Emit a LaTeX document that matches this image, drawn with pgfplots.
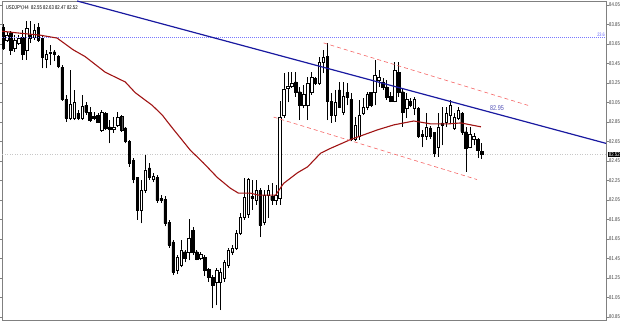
\documentclass[border=0pt]{standalone}
\usepackage{pgfplots}
\pgfplotsset{compat=1.18}
\usepackage{pgfplotstable}
\usepackage{fontspec}
\setmainfont{Liberation Sans}
\newfontfamily\mtfont[FakeStretch=0.78]{Liberation Sans}

\definecolor{maRed}{RGB}{160,20,20}
\definecolor{trendBlue}{RGB}{25,25,160}
\definecolor{chanRed}{RGB}{245,100,100}
\definecolor{fibBlue}{RGB}{120,120,255}
\definecolor{frameGray}{RGB}{128,128,128}

\pgfplotstableread{
k o h l c
0 83.82 83.85 83.59 83.61
1 83.69 83.77 83.67 83.74
2 83.76 83.78 83.54 83.59
3 83.61 83.74 83.57 83.69
4 83.66 83.74 83.64 83.71
5 83.72 83.79 83.49 83.54
6 83.59 83.88 83.49 83.81
7 83.74 83.88 83.66 83.71
8 83.72 83.85 83.69 83.79
9 83.82 83.86 83.67 83.69
10 83.71 83.73 83.40 83.51
11 83.49 83.59 83.40 83.54
12 83.55 83.64 83.43 83.57
13 83.57 83.59 83.47 83.54
14 83.52 83.54 83.40 83.42
15 83.41 83.43 83.07 83.08
16 83.08 83.13 82.85 82.89
17 82.89 83.38 82.87 83.03
18 82.89 83.18 82.87 83.05
19 82.94 82.97 82.87 82.89
20 82.89 83.13 82.87 83.01
21 83.02 83.05 82.92 82.95
22 82.95 83.00 82.85 82.87
23 82.91 82.95 82.87 82.89
24 82.92 82.94 82.84 82.85
25 82.77 82.97 82.75 82.95
26 82.94 82.95 82.77 82.79
27 82.80 82.87 82.63 82.78
28 82.78 82.90 82.74 82.80
29 82.82 82.95 82.80 82.90
30 82.91 82.92 82.75 82.77
31 82.79 82.80 82.63 82.65
32 82.65 82.67 82.39 82.43
33 82.46 82.48 82.22 82.26
34 82.28 82.29 81.85 81.95
35 81.95 82.26 81.81 82.15
36 82.15 82.51 82.12 82.36
37 82.38 82.43 82.26 82.28
38 82.26 82.33 82.23 82.29
39 82.28 82.31 82.02 82.05
40 82.07 82.10 82.02 82.05
41 82.06 82.09 81.78 81.81
42 81.82 81.85 81.56 81.59
43 81.62 81.64 81.28 81.31
44 81.33 81.49 81.29 81.46
45 81.38 81.64 81.36 81.54
46 81.52 81.54 81.41 81.45
47 81.51 81.86 81.43 81.66
48 81.74 81.77 81.49 81.51
49 81.52 81.54 81.43 81.44
50 81.45 81.52 81.43 81.49
51 81.46 81.49 81.27 81.33
52 81.34 81.35 81.21 81.26
53 81.26 81.28 80.94 81.18
54 81.21 81.35 80.97 81.33
55 81.21 81.35 80.92 81.31
56 81.25 81.43 81.21 81.41
57 81.38 81.56 81.35 81.54
58 81.52 81.59 81.49 81.56
59 81.56 81.74 81.54 81.71
60 81.71 81.92 81.69 81.87
61 81.87 82.28 81.85 82.08
62 81.90 82.28 81.87 82.26
63 82.09 82.26 81.95 82.07
64 82.05 82.26 82.00 82.15
65 82.15 82.17 81.67 81.79
66 81.82 82.15 81.79 82.10
67 82.10 82.20 81.87 82.15
68 82.09 82.22 82.00 82.05
69 82.05 82.20 82.00 82.10
70 82.07 83.06 82.00 82.90
71 82.92 83.35 82.89 83.19
72 83.20 83.36 83.05 83.22
73 83.22 83.36 83.20 83.25
74 83.26 83.36 83.11 83.15
75 83.16 83.21 82.87 83.02
76 83.02 83.23 82.99 83.13
77 83.02 83.31 82.87 83.25
78 83.15 83.36 83.13 83.31
79 83.30 83.31 83.23 83.25
80 83.25 83.52 83.23 83.46
81 83.46 83.59 83.35 83.51
82 83.52 83.66 82.87 83.06
83 83.06 83.15 82.84 82.92
84 82.92 83.18 82.85 83.05
85 83.18 83.26 82.99 83.00
86 82.95 83.26 82.92 83.11
87 83.15 83.25 83.02 83.10
88 83.08 83.15 82.65 82.67
89 82.67 82.90 82.65 82.82
90 82.70 83.08 82.67 82.92
91 82.94 83.10 82.92 83.00
92 83.00 83.16 82.97 83.13
93 83.15 83.16 83.00 83.02
94 83.15 83.49 83.02 83.33
95 83.28 83.38 83.21 83.31
96 83.26 83.30 83.18 83.21
97 83.21 83.28 83.08 83.10
98 83.11 83.16 83.05 83.06
99 83.06 83.46 83.05 83.38
100 83.36 83.46 83.11 83.15
101 83.16 83.20 82.80 82.95
102 82.99 83.15 82.89 83.08
103 83.06 83.10 83.00 83.02
104 82.99 83.11 82.92 83.08
105 82.99 83.00 82.69 82.70
106 82.72 82.77 82.59 82.70
107 82.70 82.94 82.67 82.80
108 82.79 82.81 82.68 82.70
109 82.74 82.75 82.49 82.53
110 82.59 82.94 82.49 82.80
111 82.84 83.00 82.61 82.82
112 82.85 83.00 82.80 82.94
113 82.92 83.08 82.84 83.02
114 82.79 82.94 82.77 82.90
115 82.89 83.00 82.87 82.97
116 82.94 82.95 82.72 82.75
117 82.75 82.80 82.34 82.58
118 82.59 82.80 82.58 82.72
119 82.67 82.74 82.61 82.70
120 82.67 82.69 82.48 82.56
121 82.55 82.63 82.47 82.52
}\candles

\pgfplotsset{base/.style={at={(2pt,2pt)}, anchor=south west, width=604pt, height=319pt,
  scale only axis, xmin=-0.2, xmax=152.4, ymin=80.82, ymax=84.09, clip mode=individual}}

\begin{document}
\begin{tikzpicture}
\path[use as bounding box] (0,0) rectangle (625pt,322pt);
% axis 1: frame, ticks, horizontal lines, wicks
\begin{axis}[base,
  axis line style={frameGray, line width=0.8pt},
  xtick=\empty,
  ytick={80.85,81.05,81.25,81.45,81.65,81.85,82.05,82.25,82.45,82.65,82.85,83.05,83.25,83.45,83.65,83.85,84.05},
  yticklabel pos=right,
  tick align=outside, major tick length=2.5pt,
  ytick style={frameGray, line width=0.5pt},
  /pgf/number format/assume math mode=true,
  yticklabel style={font=\mtfont\fontsize{5.5}{6}\selectfont, text=black!75, inner sep=0pt, anchor=west, xshift=0.5pt,
    /pgf/number format/.cd, fixed, fixed zerofill, precision=2},
]
\addplot[draw=black!22, dash pattern=on 1pt off 1.5pt, line width=0.5pt] coordinates {(-0.2,82.52) (152.4,82.52)};
\addplot[draw=none, no markers, error bars/.cd, y dir=plus, y explicit, error mark=none,
  error bar style={draw=black, line width=0.5pt}]
  table[x=k, y=l, y error expr=\thisrow{h}-\thisrow{l}] {\candles};
\node[anchor=north west, font=\mtfont\fontsize{5.5}{6}\selectfont, inner sep=0pt] at (rel axis cs:0.006,0.985) {USDJPY,H4\ \ 82.55 82.63 82.47 82.52};
\node[anchor=south east, text=fibBlue!80!blue, font=\mtfont\fontsize{5}{6}\selectfont, inner sep=0.5pt] at (axis cs:152.3,83.72) {23.6};
\node[anchor=west, fill=black, text=white, font=\mtfont\fontsize{5.5}{6}\selectfont, inner sep=0.7pt, xshift=2pt] at (axis cs:152.4,82.52) {82.52};
\end{axis}
% axis 2: candle bodies
\begin{axis}[base, hide axis, ybar stacked, bar width=2.4pt]
\addplot[draw=none, fill=none] table[x=k, y expr={min(\thisrow{o},\thisrow{c})}] {\candles};
\addplot[draw=black, fill=white, line width=0.4pt] table[x=k, y expr={max(\thisrow{c}-\thisrow{o},0)}] {\candles};
\addplot[draw=black, fill=black, line width=0.4pt] table[x=k, y expr={max(\thisrow{o}-\thisrow{c},0)}] {\candles};
\end{axis}
% axis 3: indicators
\begin{axis}[base, hide axis]
\addplot[color=fibBlue, solid, line cap=butt, dash pattern=on 1pt off 1pt, line width=0.5pt] coordinates {(-0.2,83.72) (152.4,83.72)};
\addplot[maRed, line width=1.1pt] coordinates {(-0.2,83.78) (4.36,83.76) (9.42,83.74) (13.72,83.71) (17.77,83.59) (20.81,83.52) (25.88,83.36) (30.94,83.26) (33.47,83.15) (37.77,83.02) (40.31,82.92) (41.83,82.84) (43.60,82.75) (47.39,82.56) (50.69,82.43) (54.23,82.28) (57.52,82.17) (59.55,82.12) (62.58,82.12) (64.61,82.10) (67.65,82.10) (68.92,82.10) (70.94,82.22) (74.48,82.33) (77.01,82.39) (80.30,82.53) (82.83,82.58) (87.89,82.67) (94.73,82.77) (98.78,82.82) (103.84,82.86) (108.15,82.83) (112.45,82.83) (115.74,82.84) (120.81,82.80)};
\addplot[trendBlue, line width=1.2pt] coordinates {(18.79,84.09) (152.46,82.63)};
\addplot[chanRed, dash pattern=on 4pt off 3pt, line width=0.6pt] coordinates {(81.07,83.66) (132.71,83.02)};
\addplot[chanRed, dash pattern=on 4pt off 3pt, line width=0.6pt] coordinates {(68.41,82.90) (119.80,82.26)};
\node[text=trendBlue!75, font=\mtfont\fontsize{7}{8}\selectfont, inner sep=0pt] at (axis cs:124.86,82.99) {82.95};
\end{axis}
\end{tikzpicture}
\end{document}
